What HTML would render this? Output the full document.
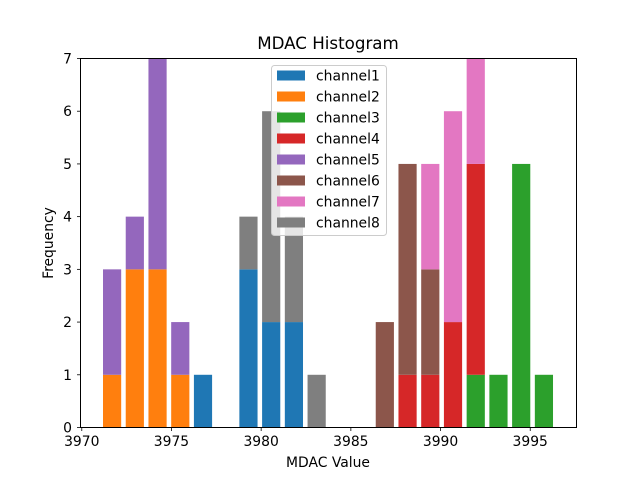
<!DOCTYPE html>
<html><head><meta charset="utf-8"><style>
body{margin:0;background:#fff;}
svg text{font-family:"DejaVu Sans","Liberation Sans",sans-serif;fill:#000;}
</style></head><body>
<svg id="chart" width="640" height="480" viewBox="0 0 640 480" xmlns="http://www.w3.org/2000/svg">
<rect width="640" height="480" fill="#fff"/>
<text x="328" y="49" font-size="16.7" text-anchor="middle">MDAC Histogram</text>
<g id="bars"></g>
<rect x="80.5" y="58.5" width="496" height="369" fill="none" stroke="#000" stroke-width="1"/>
<g id="xticks"></g>
<g id="yticks"></g>
<text x="328" y="467" font-size="13.9" text-anchor="middle">MDAC Value</text>
<text transform="translate(53,243) rotate(-90)" font-size="13.9" text-anchor="middle">Frequency</text>
<g id="legend"></g>
</svg>
<script>
const binStart = 3971.69;
const binWidth = 1.267;
const seriesNames = ["channel1","channel2","channel3","channel4","channel5","channel6","channel7","channel8"];
const colors = ["#1f77b4","#ff7f0e","#2ca02c","#d62728","#9467bd","#8c564b","#e377c2","#7f7f7f"];
// counts per bin (20 bins)
const ch1 = [0,0,0,0,1,0,3,2,2,0,0,0,0,0,0,0,0,0,0,0];
const ch2 = [1,3,3,1,0,0,0,0,0,0,0,0,0,0,0,0,0,0,0,0];
const ch3 = [0,0,0,0,0,0,0,0,0,0,0,0,0,0,0,0,1,1,5,1];
const ch4 = [0,0,0,0,0,0,0,0,0,0,0,0,0,1,1,2,4,0,0,0];
const ch5 = [2,1,4,1,0,0,0,0,0,0,0,0,0,0,0,0,0,0,0,0];
const ch6 = [0,0,0,0,0,0,0,0,0,0,0,0,2,4,2,0,0,0,0,0];
const ch7 = [0,0,0,0,0,0,0,0,0,0,0,0,0,0,2,4,2,0,0,0];
const ch8 = [0,0,0,0,0,0,1,4,2,1,0,0,0,0,0,0,0,0,0,0];
const xTicks = [3970,3975,3980,3985,3990,3995];
const yTicks = [0,1,2,3,4,5,6,7];

const NS="http://www.w3.org/2000/svg";
const series=[ch1,ch2,ch3,ch4,ch5,ch6,ch7,ch8];
const X0=80.7,X1=576.7,Y0=427.5,Y1=58.5;
const xmin=3969.94,xmax=3997.59,ymin=0,ymax=7;
const xs=v=>X0+(v-xmin)/(xmax-xmin)*(X1-X0);
const ys=v=>Y0-(v-ymin)/(ymax-ymin)*(Y0-Y1);
function mk(tag,attrs,parent){const e=document.createElementNS(NS,tag);for(const k in attrs)e.setAttribute(k,attrs[k]);parent.appendChild(e);return e;}
const gb=document.getElementById('bars');
const nb=ch1.length;
const bottoms=new Array(nb).fill(0);
series.forEach((s,si)=>{
  s.forEach((c,i)=>{
    if(c>0){
      const center=binStart+i*binWidth;
      const x=xs(center-0.4*binWidth), x2=xs(center+0.4*binWidth);
      const yTop=ys(bottoms[i]+c), yB=ys(bottoms[i]);
      const r=mk('rect',{x:x,y:yTop,width:x2-x,height:yB-yTop,fill:colors[si]},gb);
      
      
    }
    bottoms[i]+=c;
  });
});
const gx=document.getElementById('xticks');
xTicks.forEach(t=>{
  const x=xs(t);
  const l=mk('line',{x1:x,x2:x,y1:427.5,y2:431,stroke:'#000','stroke-width':0.8},gx);
  
  
  const tx=mk('text',{x:x,y:446,'font-size':13.9,'text-anchor':'middle'},gx);
  tx.textContent=t;
  
  
});
const gy=document.getElementById('yticks');
yTicks.forEach(t=>{
  const y=ys(t);
  const l=mk('line',{x1:77,x2:80.5,y1:y,y2:y,stroke:'#000','stroke-width':0.8},gy);
  
  
  const tx=mk('text',{x:72,y:y+5,'font-size':13.9,'text-anchor':'end'},gy);
  tx.textContent=t;
  
  
});
const gl=document.getElementById('legend');
const lb=mk('rect',{x:271.5,y:65.5,width:115,height:170,rx:3,fill:'#fff','fill-opacity':0.8,stroke:'#ccc'},gl);


seriesNames.forEach((n,i)=>{
  const y=75.5+i*21;
  const p=mk('rect',{x:277,y:y-5,width:28,height:10,fill:colors[i]},gl);
  
  
  const t=mk('text',{x:316,y:y+5,'font-size':13.9},gl);
  t.textContent=n;
  
  
});
</script>
</body></html>
